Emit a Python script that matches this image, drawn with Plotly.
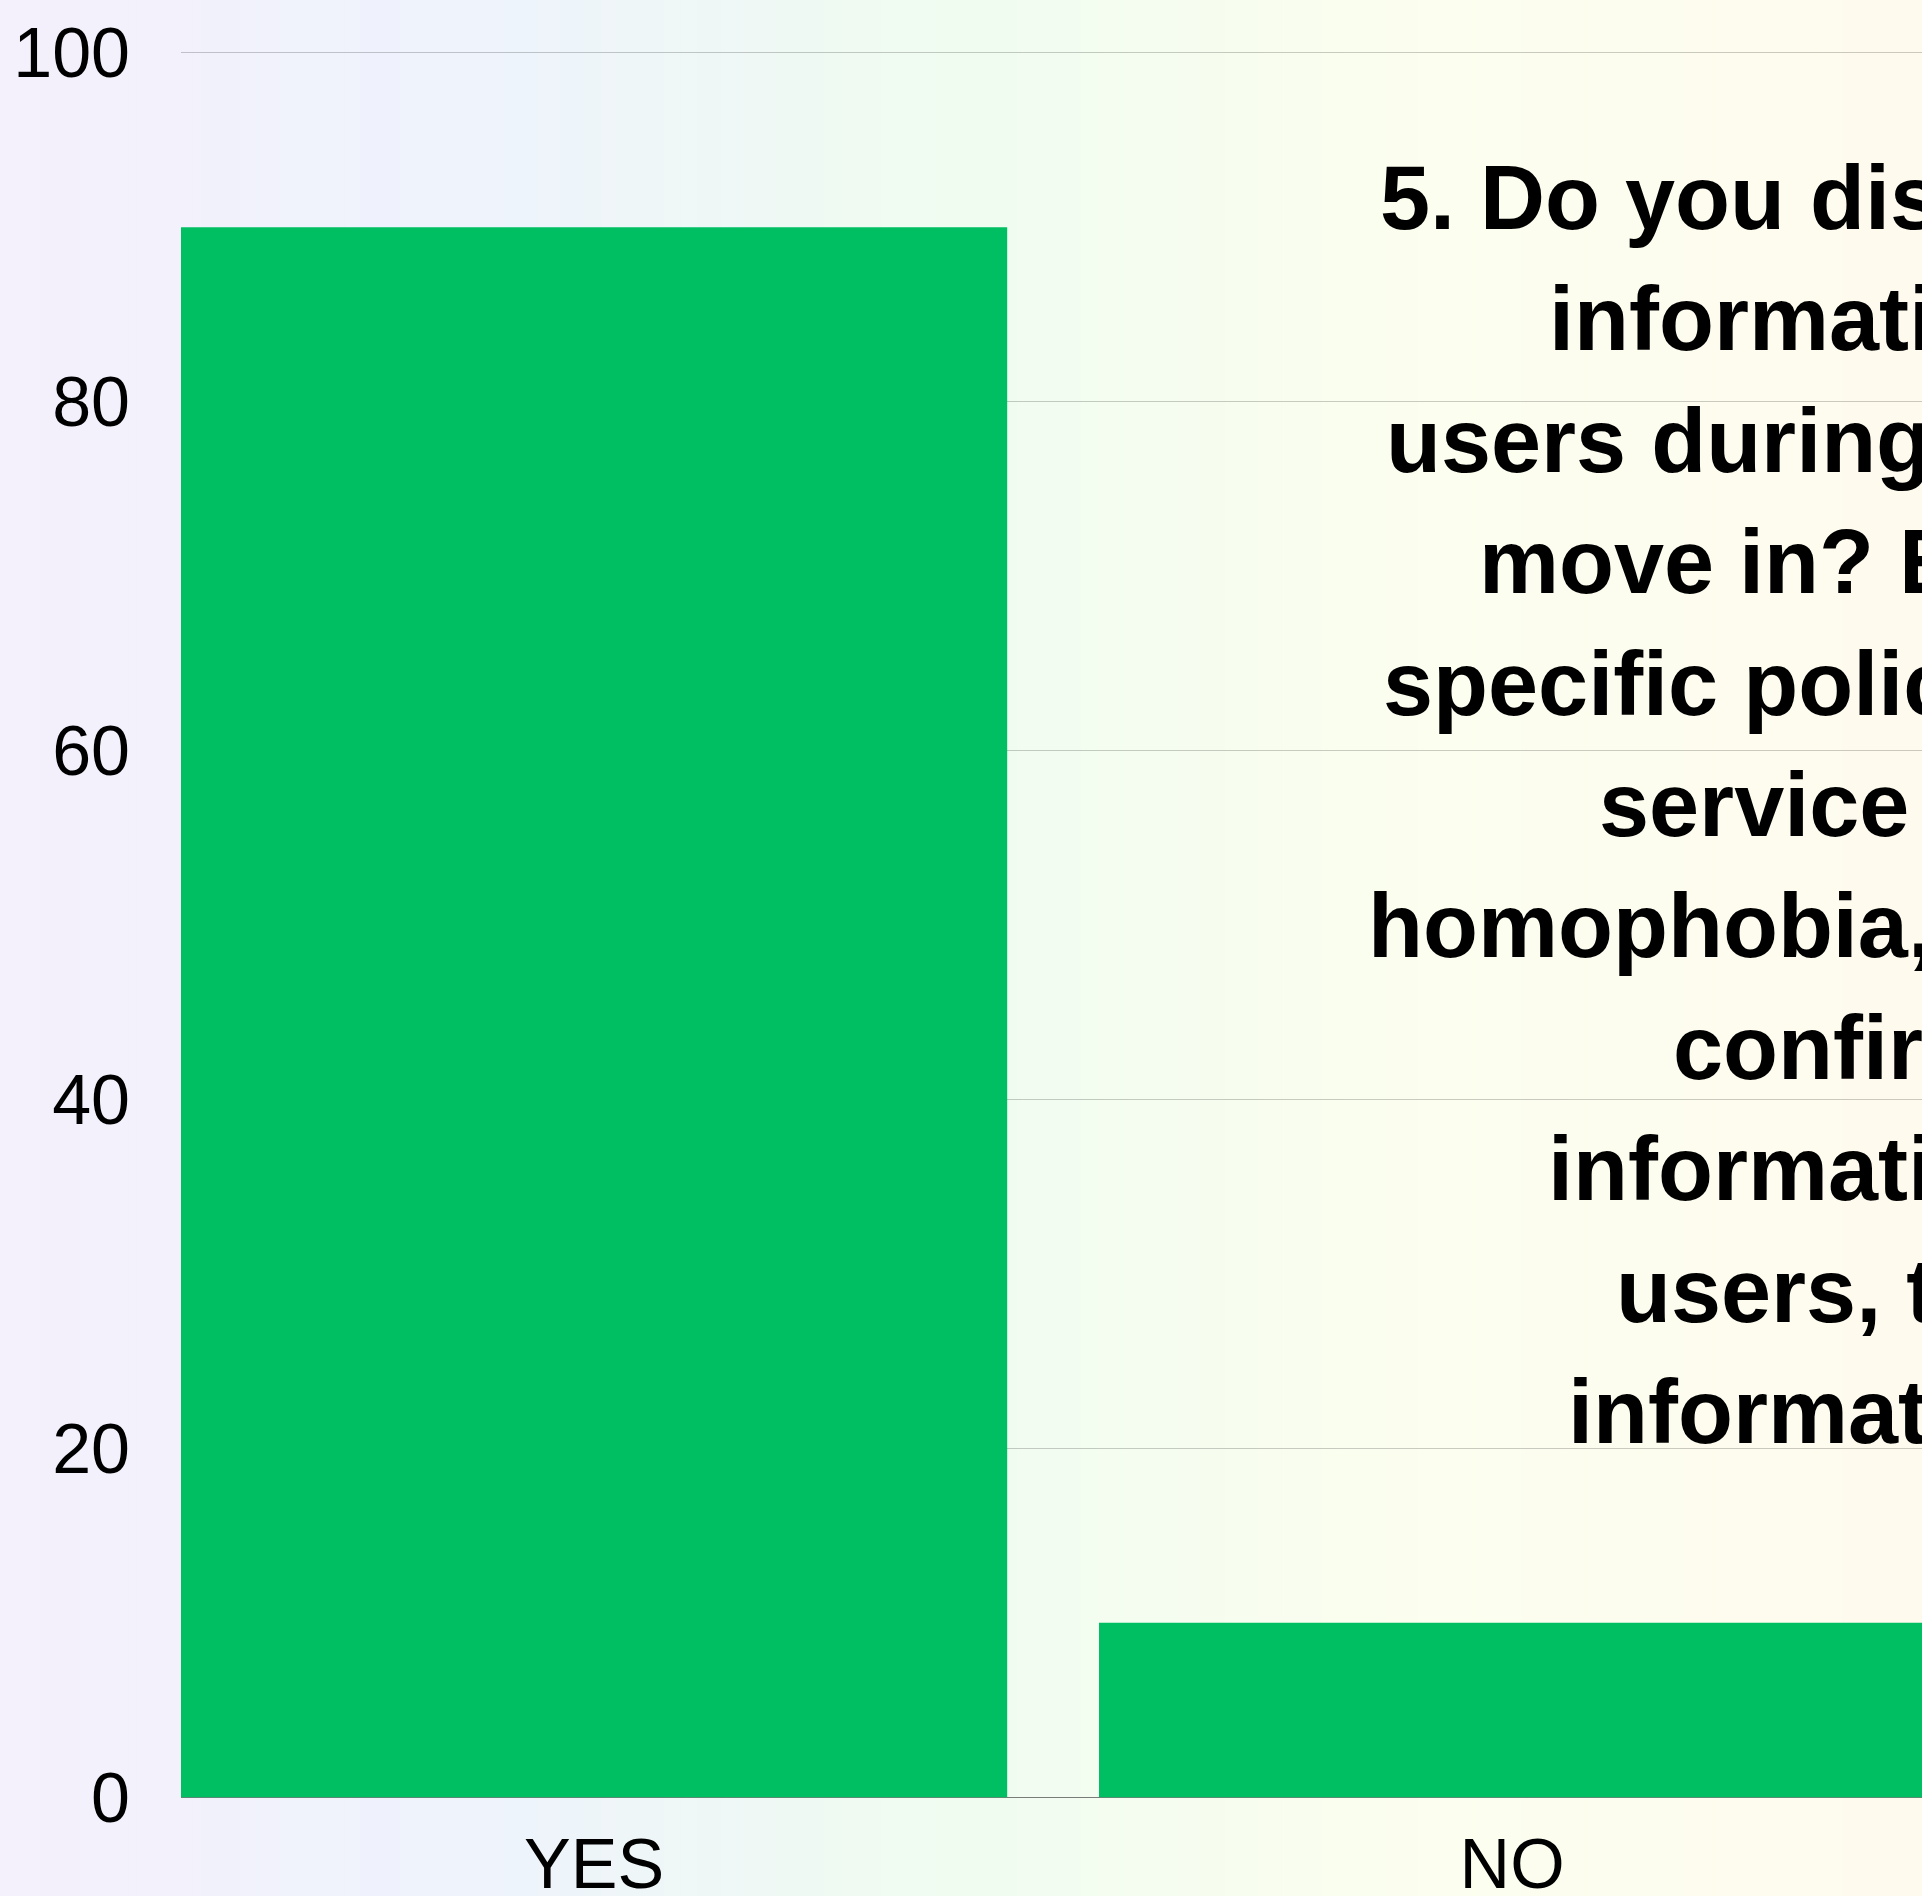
import plotly.graph_objects as go

# ---- data -------------------------------------------------------------
categories = ["YES", "NO"]
values = [90, 10]
y_tick_values = [0, 20, 40, 60, 80, 100]
y_tick_labels = ["0", "20", "40", "60", "80", "100"]

question_lines = [
    "5. Do you discuss",
    "information",
    "users during",
    "move in? E.g.",
    "specific policies",
    "service",
    "homophobia,",
    "confirm",
    "information",
    "users, the",
    "information",
]

# ---- layout constants ---------------------------------------------------
W, H = 1922, 1896
M_L, M_R, M_T, M_B = 181, 0, 51, 97
PW = W - M_L - M_R
PH = H - M_T - M_B
BAR_GAP = 0.1
CAT_PX = 918                      # pixel width of one category band
X0 = -(1 - BAR_GAP) / 2
x_range = [X0, X0 + PW / CAT_PX]
y_range = [-0.1, 100.1]

BAR_COLOR = "#00BF63"
FONT = "Liberation Sans, Arial, Helvetica, sans-serif"
TICK_SIZE = 70
TITLE_SIZE = 90

# left edge (px) and baseline (px) of every question line
line_left_px = [1378, 1547, 1384, 1477, 1381, 1597, 1366, 1671, 1546, 1614, 1566]
first_baseline, line_step = 229, 121.4

# horizontal background gradient stops (position, rgb)
grad_stops = [
    (0.00, (244, 240, 252)),
    (0.25, (238, 243, 252)),
    (0.50, (240, 252, 240)),
    (0.75, (252, 254, 239)),
    (1.00, (254, 251, 238)),
]


def grad_color(t):
    for (p0, c0), (p1, c1) in zip(grad_stops[:-1], grad_stops[1:]):
        if p0 <= t <= p1:
            f = (t - p0) / (p1 - p0) if p1 > p0 else 0
            r, g, b = (round(a + (b_ - a) * f) for a, b_ in zip(c0, c1))
            return f"rgb({r},{g},{b})"
    return "rgb(%d,%d,%d)" % grad_stops[-1][1]


fig = go.Figure(
    go.Bar(
        x=categories,
        y=values,
        marker=dict(color=BAR_COLOR, line=dict(width=0)),
        hoverinfo="x+y",
    )
)

# background: thin vertical stripes across the whole page
N_STRIPES = 240
shapes = []
for i in range(N_STRIPES):
    px0 = W * i / N_STRIPES
    px1 = W * (i + 1) / N_STRIPES + 1
    shapes.append(dict(
        type="rect", xref="paper", yref="paper", layer="below",
        x0=(px0 - M_L) / PW, x1=(px1 - M_L) / PW,
        y0=-M_B / PH - 0.01, y1=1 + M_T / PH + 0.01,
        fillcolor=grad_color((i + 0.5) / N_STRIPES),
        line=dict(width=0),
    ))

# question text, one annotation per line
annotations = []
for k, line in enumerate(question_lines):
    baseline = first_baseline + line_step * k
    annotations.append(dict(
        text=f"<b>{line}</b>",
        xref="paper", yref="paper",
        x=(line_left_px[k] - M_L) / PW,
        y=(H - M_B - (baseline + 21)) / PH,
        xanchor="left", yanchor="bottom",
        showarrow=False, align="left",
        font=dict(family=FONT, size=TITLE_SIZE, color="#000000"),
    ))

fig.update_layout(
    width=W, height=H,
    margin=dict(l=M_L, r=M_R, t=M_T, b=M_B, pad=0, autoexpand=False),
    paper_bgcolor="rgb(244,240,252)",
    plot_bgcolor="rgba(0,0,0,0)",
    bargap=BAR_GAP,
    showlegend=False,
    shapes=shapes,
    annotations=annotations,
    font=dict(family=FONT, color="#000000"),
    xaxis=dict(
        range=x_range,
        showgrid=False, zeroline=False, showline=False,
        ticks="", tickfont=dict(family=FONT, size=TICK_SIZE, color="#000000"),
        ticklabelstandoff=18,
        automargin=False,
        fixedrange=True,
    ),
    yaxis=dict(
        range=y_range,
        tickvals=y_tick_values, ticktext=y_tick_labels,
        showgrid=True, gridcolor="rgba(0,0,0,0.2)", gridwidth=1,
        zeroline=True, zerolinecolor="rgba(90,90,90,0.8)", zerolinewidth=1,
        showline=False, ticks="",
        tickfont=dict(family=FONT, size=TICK_SIZE, color="#000000"),
        ticklabelstandoff=50,
        automargin=False,
        fixedrange=True,
    ),
)

fig.write_html("out.html")
